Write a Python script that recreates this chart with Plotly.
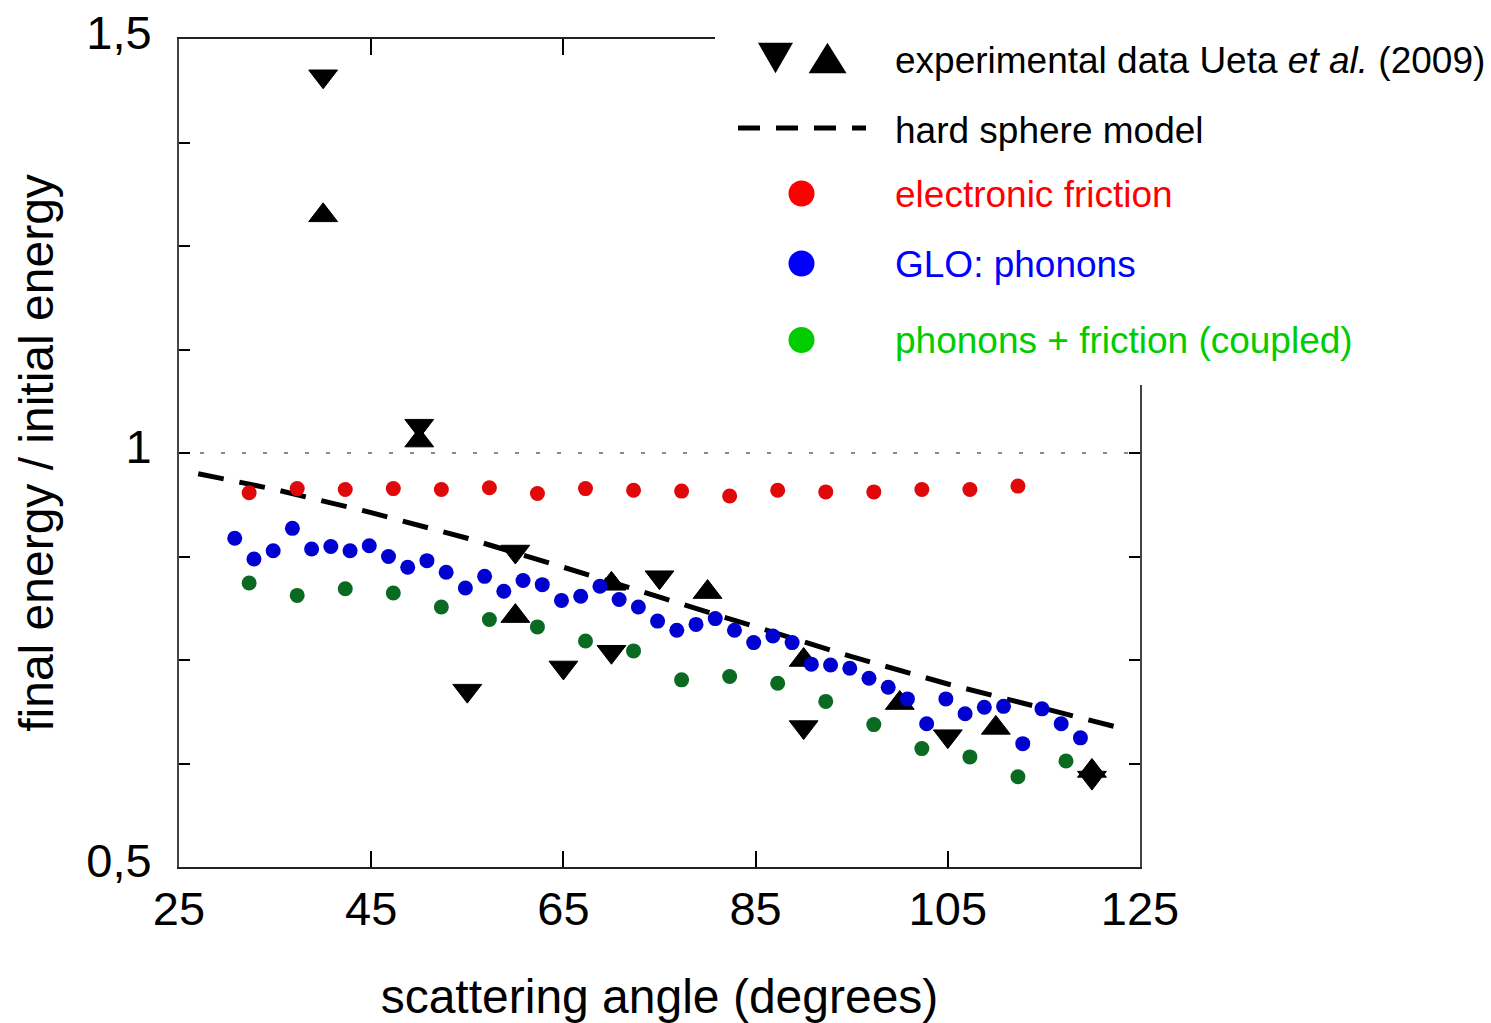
import plotly.graph_objects as go

# ---------------- data ----------------
red_x = [32.3, 37.3, 42.3, 47.3, 52.3, 57.3, 62.3, 67.3, 72.3, 77.3, 82.3, 87.3,
         92.3, 97.3, 102.3, 107.3, 112.3]
red_y = [0.952, 0.957, 0.956, 0.957, 0.956, 0.958, 0.951, 0.957, 0.955, 0.954,
         0.948, 0.955, 0.953, 0.953, 0.956, 0.956, 0.960]

blue_x = [30.8, 32.8, 34.8, 36.8, 38.8, 40.8, 42.8, 44.8, 46.8, 48.8, 50.8, 52.8,
          54.8, 56.8, 58.8, 60.8, 62.8, 64.8, 66.8, 68.8, 70.8, 72.8, 74.8, 76.8,
          78.8, 80.8, 82.8, 84.8, 86.8, 88.8, 90.8, 92.8, 94.8, 96.8, 98.8, 100.8,
          102.8, 104.8, 106.8, 108.8, 110.8, 112.8, 114.8, 116.8, 118.8]
blue_y = [0.897, 0.872, 0.882, 0.909, 0.884, 0.887, 0.882, 0.888, 0.875, 0.862,
          0.870, 0.856, 0.837, 0.851, 0.833, 0.846, 0.841, 0.822, 0.827, 0.839,
          0.823, 0.814, 0.797, 0.786, 0.793, 0.800, 0.786, 0.771, 0.779, 0.771,
          0.745, 0.744, 0.740, 0.728, 0.717, 0.703, 0.673, 0.703, 0.685, 0.693,
          0.694, 0.649, 0.691, 0.673, 0.656]

green_x = [32.3, 37.3, 42.3, 47.3, 52.3, 57.3, 62.3, 67.3, 72.3, 77.3, 82.3, 87.3,
           92.3, 97.3, 102.3, 107.3, 112.3, 117.3]
green_y = [0.843, 0.828, 0.836, 0.831, 0.814, 0.799, 0.790, 0.773, 0.761, 0.726,
           0.730, 0.722, 0.700, 0.672, 0.643, 0.633, 0.609, 0.628]

hs_x = [27, 35, 45, 55, 65, 75, 85, 95, 105, 115, 122.6]
hs_y = [0.975, 0.956, 0.928, 0.897, 0.862, 0.826, 0.790, 0.754, 0.721, 0.691, 0.669]

down_x = [40, 50, 55, 60, 65, 70, 75, 90, 105, 120]
down_y = [1.455, 1.033, 0.713, 0.881, 0.741, 0.760, 0.850, 0.669, 0.658, 0.608]
up_x = [40, 50, 60, 70, 80, 90, 100, 110, 120]
up_y = [1.287, 1.015, 0.803, 0.842, 0.832, 0.750, 0.698, 0.668, 0.616]

x_ticks = [25, 45, 65, 85, 105, 125]
y_ticks = [0.5, 0.625, 0.75, 0.875, 1.0, 1.125, 1.25, 1.375, 1.5]
y_ticktext = ["0,5", "", "", "", "1", "", "", "", "1,5"]

FONT = "Liberation Sans, Arial, sans-serif"
W, H = 1491, 1023
ML, MR, MT, MB = 179, 351, 39, 156
PW, PH = W - ML - MR, H - MT - MB


def px(x):
    return (x - ML) / PW


def py(y):
    return (H - MB - y) / PH


fig = go.Figure()

fig.add_trace(go.Scatter(x=hs_x, y=hs_y, mode="lines", line=dict(color="black", width=5, dash="26px,16px"),
                         showlegend=False, hoverinfo="skip"))
fig.add_trace(go.Scatter(x=down_x, y=down_y, mode="markers",
                         marker=dict(symbol="triangle-down", size=25, color="black",
                                     line=dict(color="black", width=1)), showlegend=False))
fig.add_trace(go.Scatter(x=up_x, y=up_y, mode="markers",
                         marker=dict(symbol="triangle-up", size=25, color="black",
                                     line=dict(color="black", width=1)), showlegend=False))
fig.add_trace(go.Scatter(x=red_x, y=red_y, mode="markers",
                         marker=dict(size=15, color="#e00808"), showlegend=False))
fig.add_trace(go.Scatter(x=green_x, y=green_y, mode="markers",
                         marker=dict(size=15, color="#0b6a22"), showlegend=False))
fig.add_trace(go.Scatter(x=blue_x, y=blue_y, mode="markers",
                         marker=dict(size=15, color="#0000d0"), showlegend=False))

shapes = [
    # dotted reference line at 1
    dict(type="line", xref="x", yref="y", x0=25, x1=125, y0=1, y1=1,
         line=dict(color="#666666", width=1.5, dash="4px,17px"), layer="below"),
    # white legend background covering the frame
    dict(type="rect", xref="paper", yref="paper", x0=px(715), x1=px(1500), y0=py(385), y1=py(-10),
         fillcolor="white", line=dict(width=0), layer="above"),
    # legend glyphs
    dict(type="path", xref="paper", yref="paper", layer="above",
         path=f"M{px(758)},{py(42.7)} L{px(793)},{py(42.7)} L{px(775.5)},{py(73.3)} Z",
         fillcolor="black", line=dict(width=0)),
    dict(type="path", xref="paper", yref="paper", layer="above",
         path=f"M{px(808.6)},{py(73.3)} L{px(846.5)},{py(73.3)} L{px(827.5)},{py(42.7)} Z",
         fillcolor="black", line=dict(width=0)),
    dict(type="line", xref="paper", yref="paper", layer="above",
         x0=px(738), x1=px(866), y0=py(128), y1=py(128),
         line=dict(color="black", width=5, dash="22px,16px")),
]
for cy, col in [(193.5, "#ff0000"), (263.5, "#0000ff"), (340, "#00cc00")]:
    shapes.append(dict(type="circle", xref="paper", yref="paper", layer="above",
                       x0=px(801.5 - 13), x1=px(801.5 + 13), y0=py(cy + 13), y1=py(cy - 13),
                       fillcolor=col, line=dict(width=0)))

annotations = []
legend_text = [
    ("experimental data Ueta <i>et al.</i> (2009)", 60, "black"),
    ("hard sphere model", 130.5, "black"),
    ("electronic friction", 194, "#ff0000"),
    ("GLO: phonons", 264, "#0000ff"),
    ("phonons + friction (coupled)", 341, "#00cc00"),
]
for txt, cy, col in legend_text:
    annotations.append(dict(text=txt, xref="paper", yref="paper", x=px(893), y=py(cy),
                            xanchor="left", yanchor="middle", showarrow=False,
                            font=dict(family=FONT, size=37, color=col)))

fig.update_layout(
    width=W, height=H,
    margin=dict(l=ML, r=MR, t=MT, b=MB, autoexpand=False),
    paper_bgcolor="white", plot_bgcolor="white",
    font=dict(family=FONT, color="black"),
    shapes=shapes, annotations=annotations,
    xaxis=dict(range=[25, 125], tickvals=x_ticks, ticks="inside", ticklen=16, tickwidth=1.5,
               tickcolor="black", showline=True, linecolor="#222", linewidth=2, mirror="ticks",
               showgrid=False, zeroline=False, ticklabelstandoff=0, automargin=False,
               tickfont=dict(family=FONT, size=47),
               title=dict(text="scattering angle (degrees)", font=dict(family=FONT, size=48), standoff=48)),
    yaxis=dict(range=[0.5, 1.5], tickvals=y_ticks, ticktext=y_ticktext, ticks="inside", ticklen=11,
               tickwidth=1.5, tickcolor="black", showline=True, linecolor="#444", linewidth=2,
               mirror="ticks", showgrid=False, zeroline=False, ticklabelstandoff=16,
               ticklabelshift=-6, automargin=False,
               tickfont=dict(family=FONT, size=47),
               title=dict(text="final energy / initial energy", font=dict(family=FONT, size=48), standoff=17)),
    showlegend=False,
)

fig.write_html("out.html")
